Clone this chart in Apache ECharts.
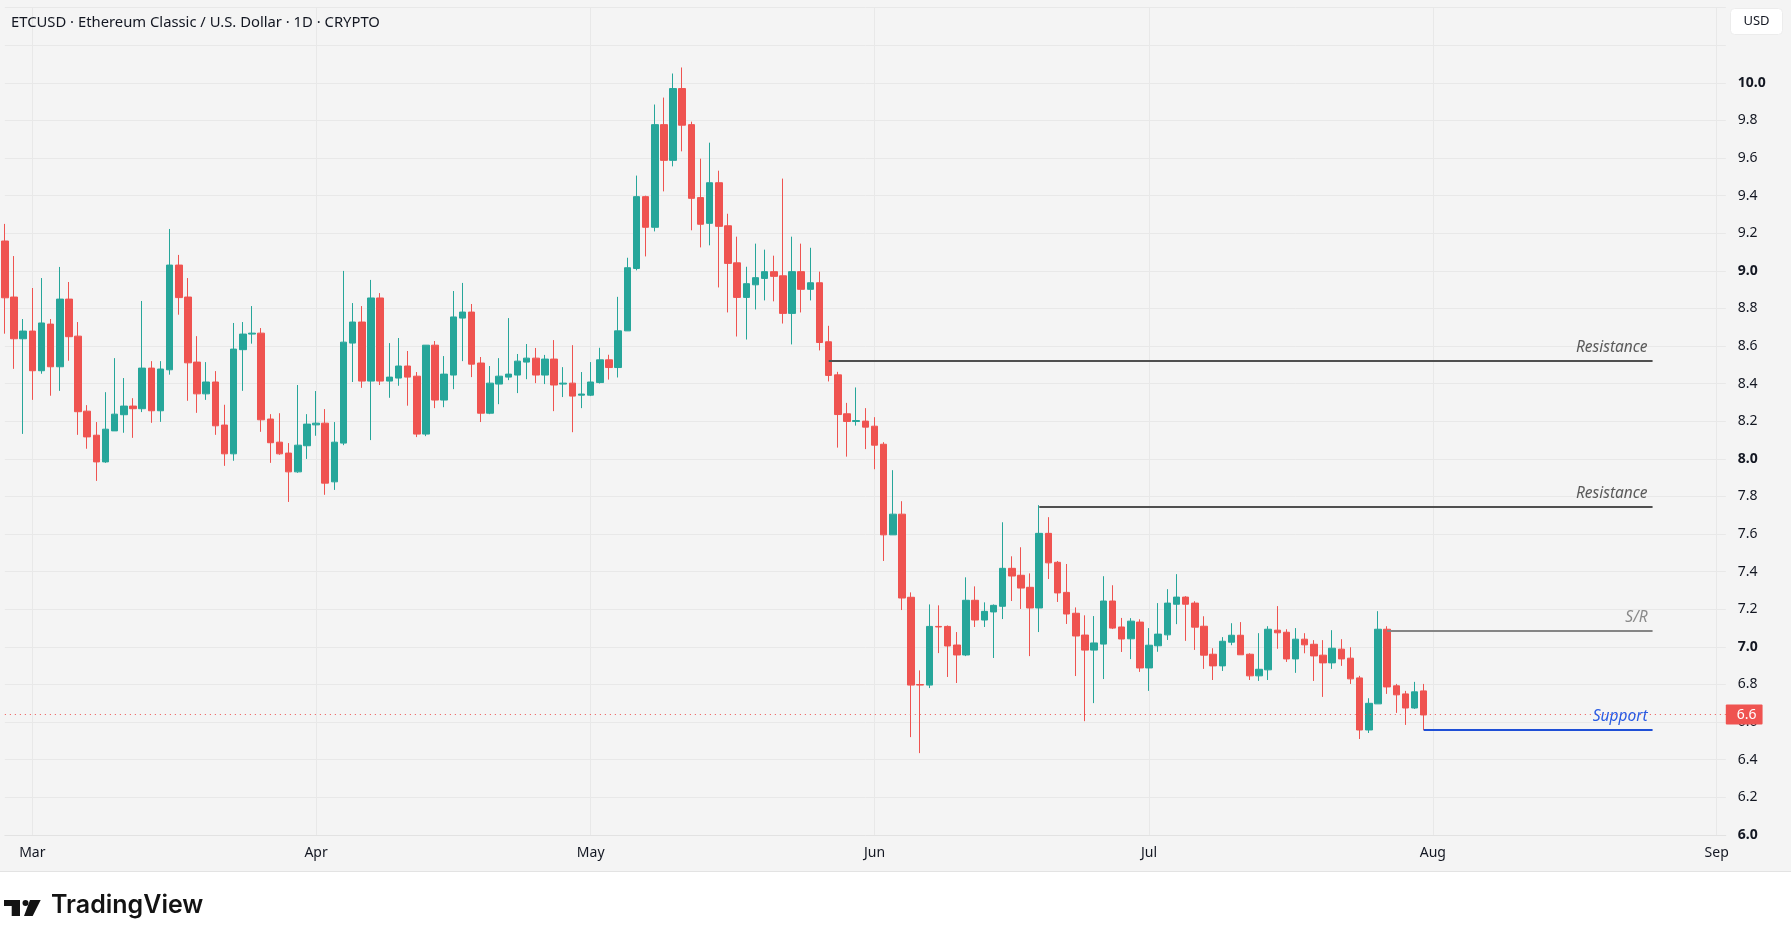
<!DOCTYPE html>
<html>
<head>
<meta charset="utf-8">
<script src="https://cdn.jsdelivr.net/npm/echarts@6/dist/echarts.min.js"></script>
<style>
  html, body { margin: 0; padding: 0; background: #ffffff; }
  #pane { position: absolute; left: 0; top: 0; width: 1791px; height: 872px; background: #f4f4f4; border-bottom: 1px solid #e3e3e3; box-sizing: border-box; }
  #chart { position: absolute; left: 0; top: 0; width: 1791px; height: 947px; }
</style>
</head>
<body>
<div id="pane"></div>
<div id="chart"></div>
<script>
// daily candles from Feb 26, one value per day
var opens = [9.159,8.861,8.639,8.680,8.469,8.717,8.490,8.850,8.653,8.254,8.126,7.984,8.149,8.235,8.281,8.267,8.483,8.256,8.474,9.031,
  8.861,8.515,8.346,8.409,8.180,8.027,8.581,8.664,8.669,8.212,8.089,8.031,7.931,8.070,8.181,8.190,7.878,8.084,8.616,8.728,
  8.414,8.856,8.414,8.430,8.494,8.440,8.132,8.605,8.313,8.446,8.749,8.781,8.510,8.243,8.398,8.435,8.446,8.515,8.536,8.446,
  8.531,8.398,8.403,8.339,8.339,8.406,8.527,8.486,8.681,9.013,9.395,9.232,9.778,9.588,9.970,9.778,9.390,9.253,9.469,9.240,
  9.043,8.859,8.926,8.960,8.996,8.974,8.774,8.996,8.902,8.937,8.623,8.447,8.240,8.199,8.201,8.174,8.078,7.596,7.706,7.264,
  6.800,6.797,7.109,7.109,7.010,6.957,7.248,7.143,7.186,7.216,7.418,7.381,7.317,7.207,7.604,7.450,7.290,7.179,7.063,6.983,
  7.015,7.244,7.106,7.043,7.132,6.888,7.006,7.064,7.227,7.265,7.233,7.110,6.961,6.899,7.025,7.062,6.961,6.846,6.878,7.089,
  7.078,6.936,7.041,7.014,6.956,6.915,6.988,6.940,6.835,6.558,6.697,7.094,6.793,6.750,6.675,6.766]
var closes = [8.857,8.639,8.680,8.469,8.723,8.490,8.850,8.650,8.251,8.117,7.984,8.158,8.238,8.281,8.267,8.483,8.256,8.478,9.031,8.858,
  8.511,8.346,8.409,8.176,8.027,8.584,8.664,8.669,8.208,8.086,8.027,7.931,8.073,8.185,8.190,7.871,8.089,8.621,8.728,8.414,
  8.856,8.414,8.435,8.494,8.435,8.132,8.605,8.313,8.451,8.755,8.781,8.504,8.243,8.403,8.440,8.451,8.520,8.536,8.446,8.531,
  8.393,8.403,8.334,8.345,8.409,8.527,8.486,8.681,9.017,9.395,9.232,9.778,9.588,9.970,9.775,9.386,9.248,9.469,9.237,9.040,
  8.859,8.932,8.964,8.996,8.971,8.774,8.996,8.902,8.937,8.619,8.444,8.236,8.199,8.204,8.169,8.073,7.596,7.706,7.260,6.797,
  6.797,7.109,7.106,7.005,6.957,7.248,7.143,7.189,7.221,7.418,7.377,7.313,7.207,7.604,7.447,7.287,7.175,7.058,6.983,7.021,
  7.244,7.100,7.042,7.137,6.888,7.009,7.068,7.233,7.265,7.227,7.105,6.956,6.899,7.030,7.062,6.958,6.846,6.881,7.094,7.075,
  6.936,7.041,7.011,6.952,6.915,6.993,6.936,6.830,6.558,6.700,7.094,6.787,6.745,6.675,6.761,6.638]
var lows = [8.666,8.479,8.133,8.314,8.453,8.336,8.362,8.522,8.128,8.054,7.883,7.979,8.149,8.139,8.112,8.249,8.192,8.197,8.448,8.767,
  8.309,8.245,8.314,8.128,7.963,7.990,8.362,8.613,8.144,7.979,8.022,7.771,7.926,8.000,8.123,7.809,7.835,8.073,8.409,8.378,
  8.100,8.393,8.325,8.389,8.283,8.116,8.121,8.270,8.275,8.371,8.520,8.435,8.196,8.238,8.291,8.419,8.350,8.424,8.403,8.398,
  8.254,8.329,8.142,8.270,8.334,8.401,8.422,8.433,8.681,9.003,9.077,9.210,9.423,9.556,9.636,9.216,9.125,9.136,8.912,8.779,
  8.651,8.635,8.795,8.843,8.838,8.720,8.609,8.779,8.843,8.577,8.412,8.060,8.012,8.177,8.052,7.945,7.457,7.596,7.196,6.520,
  6.435,6.781,6.967,6.840,6.808,6.951,7.106,7.106,6.941,7.148,7.244,7.202,6.951,7.079,7.361,7.239,7.122,6.845,6.605,6.701,
  6.829,7.095,6.973,6.935,6.867,6.766,6.974,7.037,7.121,7.032,6.984,6.883,6.824,6.872,7.009,6.958,6.824,6.819,6.824,6.990,
  6.920,6.862,6.966,6.819,6.734,6.883,6.899,6.803,6.510,6.542,6.697,6.750,6.649,6.585,6.670,6.557]
var highs = [9.250,9.079,8.744,8.909,8.962,8.744,9.021,8.941,8.728,8.286,8.196,8.355,8.536,8.430,8.323,8.840,8.520,8.520,9.223,9.085,
  8.962,8.653,8.515,8.467,8.288,8.723,8.728,8.813,8.696,8.238,8.243,8.084,8.393,8.238,8.361,8.265,8.196,9.000,8.829,8.813,
  8.952,8.882,8.616,8.643,8.574,8.462,8.605,8.627,8.547,8.893,8.936,8.824,8.542,8.494,8.536,8.749,8.558,8.611,8.590,8.553,
  8.632,8.488,8.605,8.462,8.515,8.591,8.554,8.862,9.070,9.507,9.400,9.885,9.922,10.050,10.082,9.794,9.597,9.682,9.533,9.304,
  9.182,9.022,9.145,9.113,9.081,9.491,9.182,9.145,9.123,8.996,8.708,8.463,8.298,8.380,8.270,8.222,8.089,7.940,7.775,7.290,
  6.875,7.226,7.221,7.114,7.079,7.370,7.322,7.237,7.226,7.663,7.482,7.530,7.391,7.754,7.690,7.457,7.441,7.210,7.168,7.164,
  7.376,7.328,7.154,7.153,7.147,7.100,7.233,7.307,7.387,7.270,7.243,7.163,6.993,7.052,7.126,7.132,6.966,7.073,7.110,7.217,
  7.094,7.100,7.073,7.036,7.036,7.089,7.041,6.998,6.846,6.727,7.190,7.110,6.803,6.766,6.814,6.803]

// drawn levels: name, price, first candle, last day
var levelNames = ['Resistance', 'Resistance', 'S/R', 'Support']
var levelPrices = [8.522, 7.746, 7.086, 6.558]
var levelFrom = [90, 113, 151, 155]
var levelTo = 180
var lastPrice = 6.638

var yTicks = { min: 6.0, max: 10.4, step: 0.2 }
var monthNames = ['Jan','Feb','Mar','Apr','May','Jun','Jul','Aug','Sep','Oct','Nov','Dec']

// category days, running on past the last candle up to Sep 2
var days = []
var t0 = Date.UTC(2026, 1, 26)
for (var i = 0; i < 189; i++) {
    days.push(new Date(t0 + i * 86400000).toISOString().slice(0, 10))
}

var candles = []
for (let i = 0; i < opens.length; i++) {
    candles.push([opens[i], closes[i], lows[i], highs[i]])
}

function isMonthStart(idx, val){
    return val.slice(8) == '01'
}

var levelColors = ['#4f4f4f', '#4f4f4f', '#858585', '#1f4fd6']
var levelText = ['#5a5a5a', '#5a5a5a', '#8a8a8a', '#2a5be3']

var markData = []
for (let i = 0; i < levelNames.length; i++) {
    markData.push([
        {
            coord: [days[levelFrom[i]], levelPrices[i]],
            lineStyle: { color: levelColors[i], width: 2, type: 'solid' },
            label: {
                show: true,
                position: 'insideEndTop',
                formatter: levelNames[i],
                color: levelText[i],
                fontStyle: 'italic',
                fontSize: 15.5,
                fontFamily: 'Noto Sans'
            }
        },
        { coord: [days[levelTo], levelPrices[i]] }
    ])
}
markData.push({
    yAxis: lastPrice,
    lineStyle: { color: '#ef5350', width: 1, type: [1, 4] },
    label: {
        show: true,
        position: 'end',
        distance: 0,
        formatter: lastPrice.toFixed(1),
        color: '#ffffff',
        backgroundColor: '#ef5350',
        padding: [3, 6, 3, 11],
        fontSize: 14,
        fontFamily: 'Noto Sans',
        borderRadius: 1
    }
})

var option = {
    animation: false,
    title: {
        text: 'ETCUSD · Ethereum Classic / U.S. Dollar · 1D · CRYPTO',
        left: 6,
        top: 10,
        textStyle: { fontSize: 14.8, fontWeight: 'normal', color: '#131722', fontFamily: 'Noto Sans' }
    },
    grid: { left: 4.84, right: 65.2, top: 7.7, bottom: 112.1 },
    xAxis: {
        type: 'category',
        data: days,
        boundaryGap: false,
        axisLine: { show: true, lineStyle: { color: '#e2e2e2' } },
        axisTick: { show: false },
        axisLabel: {
            interval: isMonthStart,
            formatter: function(v){ return monthNames[parseInt(v.slice(5, 7)) - 1] },
            color: '#131722',
            fontSize: 14,
            fontFamily: 'Noto Sans',
            margin: 11
        },
        splitLine: { show: true, interval: isMonthStart, lineStyle: { color: '#e8e8e8', width: 1 } }
    },
    yAxis: {
        type: 'value',
        position: 'right',
        min: yTicks.min,
        max: yTicks.max,
        interval: yTicks.step,
        axisLine: { show: false },
        axisTick: { show: false },
        axisLabel: {
            margin: 12,
            color: '#131722',
            fontSize: 14,
            fontFamily: 'Noto Sans',
            formatter: function(v){
                if (v > 10.05) return ''
                if (Math.abs(v - Math.round(v)) < 1e-6) return '{b|' + v.toFixed(1) + '}'
                return v.toFixed(1)
            },
            rich: { b: { fontWeight: 'bold', fontSize: 14, fontFamily: 'Noto Sans', color: '#131722' } }
        },
        splitLine: { lineStyle: { color: '#e8e8e8', width: 1 } }
    },
    graphic: [
        {
            type: 'group', left: 1730, top: 8,
            children: [
                { type: 'rect', shape: { x: 0, y: 0, width: 52, height: 26, r: 4 }, style: { fill: '#ffffff', stroke: '#ececec' } },
                { type: 'text', style: { x: 26, y: 13, text: 'USD', fill: '#131722', font: '13px "Noto Sans"', textAlign: 'center', textVerticalAlign: 'middle' } }
            ]
        },
        {
            type: 'group', left: 4, top: 900,
            children: [
                { type: 'rect', shape: { x: 0, y: 0, width: 16, height: 6 }, style: { fill: '#131313' } },
                { type: 'rect', shape: { x: 7.7, y: 0, width: 8.3, height: 16 }, style: { fill: '#131313' } },
                { type: 'circle', shape: { cx: 21.5, cy: 3, r: 3 }, style: { fill: '#131313' } },
                { type: 'polygon', shape: { points: [[26, 0], [36.7, 0], [28.7, 16], [20, 16]] }, style: { fill: '#131313' } }
            ]
        },
        {
            type: 'text', left: 51, top: 893,
            style: { text: 'TradingView', fill: '#131313', font: '600 25px Inter' }
        }
    ],
    series: [
        {
            type: 'candlestick',
            data: candles,
            barWidth: 7,
            clip: false,
            itemStyle: {
                color: '#26a69a',
                color0: '#ef5350',
                borderColor: '#26a69a',
                borderColor0: '#ef5350',
                borderWidth: 1
            },
            markLine: {
                silent: true,
                symbol: ['none', 'none'],
                animation: false,
                data: markData
            }
        }
    ]
}

var myChart = echarts.init(document.getElementById('chart'))
myChart.setOption(option)
</script>
</body>
</html>
